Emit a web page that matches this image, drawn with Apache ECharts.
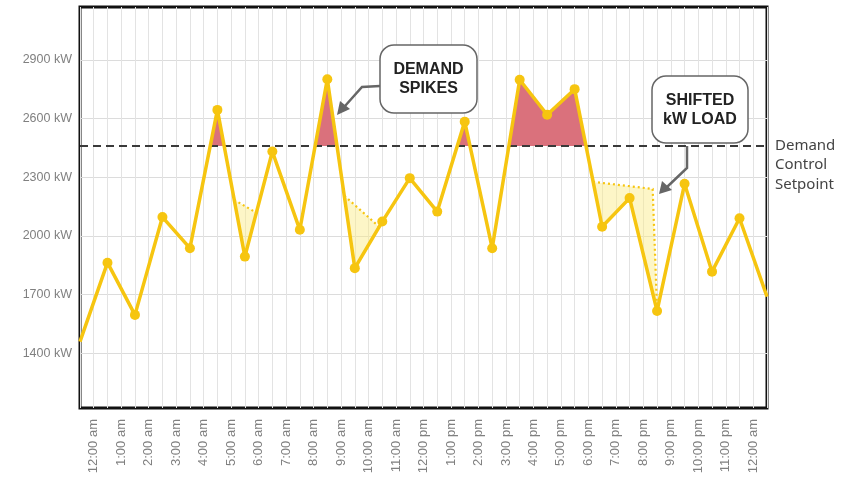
<!DOCTYPE html>
<html>
<head>
<meta charset="utf-8">
<script src="https://cdn.jsdelivr.net/npm/echarts@6/dist/echarts.min.js"></script>
<style>
html,body{margin:0;padding:0;background:#fff;}
#chart{width:850px;height:480px;}
</style>
</head>
<body>
<div id="chart"></div>
<script>
// ---- data ----
const hourLabels = ['12:00 am','1:00 am','2:00 am','3:00 am','4:00 am','5:00 am','6:00 am','7:00 am','8:00 am','9:00 am','10:00 am','11:00 am','12:00 pm','1:00 pm','2:00 pm','3:00 pm','4:00 pm','5:00 pm','6:00 pm','7:00 pm','8:00 pm','9:00 pm','10:00 pm','11:00 pm','12:00 am'];
const loadKW = [1459,1863,1596,2096,1937,2644,1894,2431,2031,2801,1835,2073,2295,2124,2584,1937,2798,2619,2750,2047,2193,1616,2266,1817,2090,1689];
const setpointKW = 2460;
const yTicks = [1400,1700,2000,2300,2600,2900];
// shifted-load regions: [x (hour index), kW]
const shift1Fill = [[5.61,2184],[6.42,2118],[6,1894]];
const shift1Dots = [[5.61,2184],[6.42,2118]];
const shift2Fill = [[9.62,2205],[10.89,2046],[10,1835]];
const shift2Dots = [[9.62,2205],[10.89,2046]];
const shift3Fill = [[18.67,2276],[20.84,2240],[21,1616],[20,2193],[19,2047]];
const shift3Dots = [[18.67,2276],[20.84,2240],[21,1616]];

const shiftFills = [shift1Fill, shift2Fill, shift3Fill];
const shiftDots = [shift1Dots, shift2Dots, shift3Dots];

const YELLOW = '#f6c510';
const RED = '#da717c';
const pts = loadKW.map((v,i)=>[i,v]);
const chart = echarts.init(document.getElementById('chart'), null, {renderer:'canvas'});
const font = '"Liberation Sans", Arial, sans-serif';

chart.setOption({
  animation:false,
  grid:{left:80, top:7, right:83, bottom:72, show:true, borderColor:'#111', borderWidth:3, backgroundColor:'transparent'},
  xAxis:[
    {type:'value', min:0, max:25, interval:0.5, position:'bottom',
     axisLine:{show:false}, axisTick:{show:false}, axisLabel:{show:false},
     splitLine:{show:true, lineStyle:{color:'#e3e3e3', width:1}}},
    {type:'category', data:hourLabels, boundaryGap:true, position:'bottom',
     axisLine:{show:false}, axisTick:{show:false}, splitLine:{show:false},
     axisLabel:{rotate:90, interval:0, margin:11, color:'#808080', fontSize:13, fontFamily:font}}
  ],
  yAxis:{type:'value', min:1120, max:3170,
    axisLine:{show:false},
    axisTick:{show:false, customValues:yTicks},
    axisLabel:{customValues:yTicks, formatter:function(v){return v + ' kW';}, color:'#808080', fontSize:12.5, fontFamily:font, margin:8},
    splitLine:{show:true, lineStyle:{color:'#dcdcdc', width:1}}},
  series:[
    // demand spikes: area between load line and setpoint, clipped to above setpoint
    {type:'custom', xAxisIndex:0, yAxisIndex:0, z:1, silent:true, data:[[0, setpointKW]],
     renderItem:function(params, api){
       const line = loadKW.map((v,i)=>api.coord([i,v]));
       const base0 = api.coord([0, setpointKW]);
       const base1 = api.coord([loadKW.length-1, setpointKW]);
       const poly = line.concat([[base1[0], base1[1]],[base0[0], base0[1]]]);
       const cs = params.coordSys;
       return {type:'polygon', shape:{points:poly}, style:{fill:RED, stroke:null},
         clipPath:{type:'rect', shape:{x:cs.x, y:cs.y, width:cs.width, height:base0[1]-cs.y}}};
     }},
    {type:'custom', xAxisIndex:0, yAxisIndex:0, z:2, silent:true, data:shiftFills.map((_,i)=>[i,0]),
     renderItem:function(params, api){
       const i = params.dataIndex;
       const poly = shiftFills[i].map(p=>api.coord(p));
       const dots = shiftDots[i].map(p=>api.coord(p));
       return {type:'group', children:[
         {type:'polygon', shape:{points:poly}, style:{fill:'rgba(250,234,130,0.45)', stroke:null}},
         {type:'polyline', shape:{points:dots}, style:{fill:null, stroke:YELLOW, lineWidth:2.2, lineDash:[2,3]}}
       ]};
     }},
    {type:'line', xAxisIndex:0, data:pts, z:5, symbol:'circle', showSymbol:true,
     symbolSize:function(v, p){ return (p.dataIndex===0 || p.dataIndex===loadKW.length-1) ? 0 : 10; },
     itemStyle:{color:YELLOW}, lineStyle:{color:YELLOW, width:3.5},
     markLine:{silent:true, symbol:['none','none'], z:3, label:{show:false},
       lineStyle:{color:'#3a3a3a', type:[8,5], width:2},
       data:[{yAxis:setpointKW}]}}
  ],
  graphic:[
    // DEMAND SPIKES annotation
    {type:'polyline', z:100, shape:{points:[[380,86],[362,87],[345,106]]}, style:{stroke:'#666', lineWidth:2.5, fill:null}},
    {type:'polygon', z:100, shape:{points:[[337,115],[340,101],[350,109]]}, style:{fill:'#666'}},
    {type:'rect', z:100, shape:{x:380, y:45, width:97, height:68, r:14}, style:{fill:'#fff', stroke:'#666', lineWidth:1.5}},
    {type:'text', z:101, style:{text:'DEMAND\nSPIKES', x:428.5, y:79, align:'center', verticalAlign:'middle', font:'bold 16px '+font, fill:'#222', lineHeight:19}},
    // SHIFTED kW LOAD annotation
    {type:'polyline', z:100, shape:{points:[[687,146],[687,168],[667,187]]}, style:{stroke:'#666', lineWidth:2.5, fill:null}},
    {type:'polygon', z:100, shape:{points:[[659,194],[662,181],[672,190]]}, style:{fill:'#666'}},
    {type:'rect', z:100, shape:{x:652, y:76, width:96, height:67, r:14}, style:{fill:'#fff', stroke:'#666', lineWidth:1.5}},
    {type:'text', z:101, style:{text:'SHIFTED\nkW LOAD', x:700, y:110, align:'center', verticalAlign:'middle', font:'bold 16px '+font, fill:'#222', lineHeight:19}},
    // setpoint label
    {type:'text', z:101, style:{text:'Demand\nControl\nSetpoint', x:775, y:165, align:'left', verticalAlign:'middle', font:'15px "Noto Sans", sans-serif', fill:'#444', lineHeight:19.5}}
  ]
});
</script>
</body>
</html>
